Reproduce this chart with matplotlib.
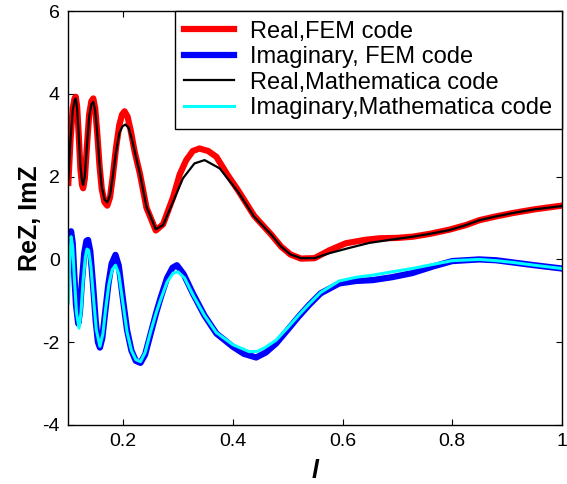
import matplotlib
matplotlib.use("Agg")
import matplotlib.pyplot as plt

plt.rcParams['font.family'] = ['Liberation Sans', 'DejaVu Sans']
plt.rcParams['axes.unicode_minus'] = False

# Real part, Mathematica code
x_re_m = [0.100, 0.104, 0.108, 0.1115, 0.1135, 0.116, 0.119, 0.122, 0.125, 0.127,
          0.130, 0.134, 0.138, 0.142, 0.1455, 0.149, 0.153, 0.157, 0.161, 0.166,
          0.171, 0.176, 0.181, 0.187, 0.193, 0.199, 0.204, 0.210, 0.216, 0.223,
          0.2304, 0.2425, 0.2595, 0.2728, 0.291, 0.309, 0.330, 0.3485, 0.376, 0.409,
          0.439, 0.470, 0.488, 0.505, 0.524, 0.549, 0.576, 0.610, 0.649, 0.690,
          0.728, 0.760, 0.795, 0.825, 0.850, 0.880, 0.910, 0.950, 1.0]
y_re_m = [1.95, 2.9, 3.6, 3.85, 3.89, 3.65, 3.0, 2.25, 1.9, 1.80,
          2.0, 2.75, 3.45, 3.75, 3.81, 3.6, 3.0, 2.3, 1.75, 1.45,
          1.38, 1.55, 2.0, 2.6, 3.05, 3.22, 3.26, 3.18, 2.9, 2.5,
          2.08, 1.27, 0.73, 0.83, 1.39, 1.96, 2.32, 2.40, 2.20, 1.64,
          1.03, 0.60, 0.31, 0.12, 0.03, 0.03, 0.15, 0.27, 0.40, 0.48,
          0.55, 0.62, 0.71, 0.83, 0.95, 1.04, 1.12, 1.21, 1.29]

# Real part, FEM code
x_re_f = [0.100, 0.104, 0.108, 0.1115, 0.1135, 0.116, 0.119, 0.122, 0.125, 0.127,
          0.130, 0.134, 0.138, 0.142, 0.1455, 0.149, 0.153, 0.157, 0.161, 0.166,
          0.171, 0.176, 0.181, 0.187, 0.193, 0.198, 0.2025, 0.208, 0.214, 0.221,
          0.2304, 0.2425, 0.2595, 0.2728, 0.291, 0.303, 0.315, 0.327, 0.339, 0.355,
          0.370, 0.390, 0.409, 0.439, 0.470, 0.488, 0.505, 0.524, 0.549, 0.576,
          0.606, 0.640, 0.667, 0.700, 0.728, 0.760, 0.795, 0.825, 0.850, 0.880,
          0.910, 0.950, 1.0]
y_re_f = [1.85, 2.9, 3.65, 3.9, 3.93, 3.7, 3.0, 2.2, 1.8, 1.72,
          1.95, 2.75, 3.5, 3.82, 3.89, 3.65, 3.0, 2.25, 1.7, 1.38,
          1.30, 1.5, 2.0, 2.7, 3.25, 3.5, 3.58, 3.45, 3.1, 2.6,
          2.08, 1.25, 0.70, 0.85, 1.5, 2.05, 2.40, 2.62, 2.68, 2.62,
          2.48, 2.05, 1.68, 1.05, 0.60, 0.31, 0.12, 0.02, 0.03, 0.22,
          0.39, 0.47, 0.51, 0.52, 0.55, 0.62, 0.72, 0.83, 0.95, 1.04,
          1.12, 1.21, 1.30]

# Imaginary part, FEM code
x_im_f = [0.100, 0.1025, 0.105, 0.108, 0.111, 0.114, 0.118, 0.121, 0.125, 0.129,
          0.133, 0.136, 0.140, 0.145, 0.150, 0.154, 0.1576, 0.162, 0.167, 0.173,
          0.179, 0.186, 0.192, 0.199, 0.207, 0.215, 0.223, 0.2316, 0.240, 0.250,
          0.260, 0.268, 0.280, 0.290, 0.298, 0.310, 0.327, 0.348, 0.370, 0.400,
          0.420, 0.4425, 0.460, 0.479, 0.500, 0.520, 0.539, 0.560, 0.594, 0.625,
          0.655, 0.690, 0.727, 0.765, 0.800, 0.849, 0.880, 0.909, 0.950, 1.0]
y_im_f = [-0.1, 0.45, 0.68, 0.4, -0.4, -1.1, -1.55, -1.3, -0.5, 0.15,
          0.45, 0.47, 0.2, -0.6, -1.5, -2.0, -2.13, -1.9, -1.3, -0.6,
          -0.1, 0.11, -0.15, -0.9, -1.7, -2.2, -2.45, -2.5, -2.3, -1.8,
          -1.3, -0.94, -0.45, -0.2, -0.14, -0.35, -0.82, -1.35, -1.79, -2.11,
          -2.28, -2.37, -2.25, -2.03, -1.7, -1.38, -1.10, -0.82, -0.58, -0.52,
          -0.50, -0.43, -0.33, -0.17, -0.04, 0.0, -0.02, -0.07, -0.14, -0.22]

# Imaginary part, Mathematica code
x_im_m = [0.100, 0.1025, 0.105, 0.108, 0.111, 0.115, 0.1195, 0.123, 0.127, 0.131,
          0.134, 0.137, 0.141, 0.146, 0.151, 0.1576, 0.163, 0.168, 0.174, 0.180,
          0.186, 0.192, 0.199, 0.207, 0.215, 0.223, 0.2316, 0.240, 0.250, 0.260,
          0.268, 0.280, 0.291, 0.300, 0.312, 0.327, 0.348, 0.370, 0.400, 0.430,
          0.445, 0.460, 0.479, 0.500, 0.520, 0.539, 0.560, 0.594, 0.625, 0.655,
          0.690, 0.727, 0.765, 0.800, 0.849, 0.880, 0.909, 0.950, 1.0]
y_im_m = [-1.06, -0.1, 0.55, 0.3, -0.45, -1.3, -1.66, -1.3, -0.5, 0.05,
          0.25, 0.22, -0.15, -0.95, -1.7, -2.10, -1.8, -1.2, -0.6, -0.25,
          -0.14, -0.35, -1.0, -1.75, -2.2, -2.42, -2.47, -2.25, -1.75, -1.3,
          -0.98, -0.55, -0.33, -0.30, -0.45, -0.85, -1.35, -1.77, -2.06, -2.23,
          -2.22, -2.12, -1.95, -1.65, -1.35, -1.08, -0.80, -0.52, -0.43, -0.38,
          -0.30, -0.22, -0.12, -0.03, 0.0, -0.03, -0.07, -0.14, -0.22]

x_ticks = [0.2, 0.4, 0.6, 0.8, 1.0]
x_tick_labels = ['0.2', '0.4', '0.6', '0.8', '1']
y_ticks = [-4, -2, 0, 2, 4, 6]

fig = plt.figure(figsize=(5.67, 4.84), dpi=100)
ax = fig.add_axes([0.1205, 0.122, 0.8705, 0.855])

ax.plot(x_re_f, y_re_f, color='#ff0000', lw=4.5, label='Real,FEM code')
ax.plot(x_im_f, y_im_f, color='#0000ff', lw=4.5, label='Imaginary, FEM code')
ax.plot(x_re_m, y_re_m, color='black', lw=1.6, label='Real,Mathematica code')
ax.plot(x_im_m, y_im_m, color='cyan', lw=2.2, label='Imaginary,Mathematica code')

ax.set_xlim(0.1, 1.0)
ax.set_ylim(-4, 6)
ax.set_xticks(x_ticks)
ax.set_xticklabels(x_tick_labels)
ax.set_yticks(y_ticks)
ax.tick_params(direction='in', top=True, right=True, length=4, width=0.8,
               labelsize=14, pad=6)
for s in ax.spines.values():
    s.set_linewidth(1.0)

ax.set_xlabel('l', fontsize=18, fontweight='bold', fontstyle='italic', labelpad=6)
ax.set_ylabel('ReZ, ImZ', fontsize=18, fontweight='bold', labelpad=0)

leg = ax.legend(loc='upper right', fontsize=17, borderaxespad=0,
                fancybox=False, framealpha=1, edgecolor='black',
                handlelength=2.1, handletextpad=0.7, labelspacing=0.15,
                borderpad=0.4)
leg.get_frame().set_linewidth(1.0)

fig.savefig('out.png', dpi=100)
